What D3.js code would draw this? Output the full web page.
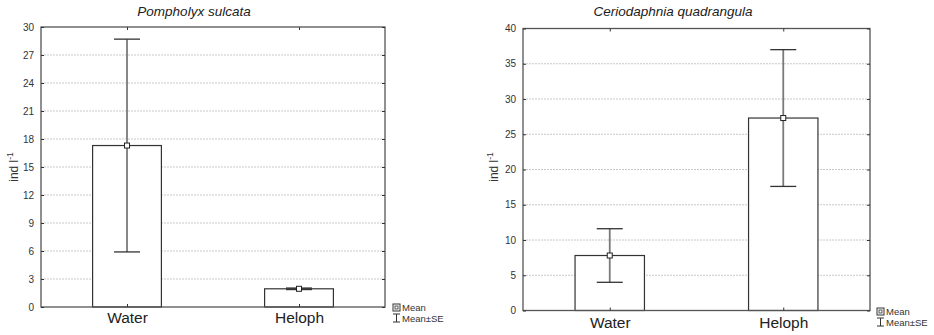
<!DOCTYPE html>
<html><head><meta charset="utf-8">
<script src="https://cdn.jsdelivr.net/npm/d3@7"></script>
<style>body{margin:0;background:#fff}svg{display:block}text{font-family:"Liberation Sans",Arial,sans-serif}</style>
</head><body><svg id="c" width="934" height="335"></svg>
<script>
const categories = ["Water", "Heloph"];
const titles = ["Pompholyx sulcata", "Ceriodaphnia quadrangula"];
const meansPomph = [17.3, 1.95];
const sePomph = [11.4, 0.08];
const meansCerio = [7.8, 27.3];
const seCerio = [3.8, 9.7];
const ticksPomph = [0, 3, 6, 9, 12, 15, 18, 21, 24, 27, 30];
const ticksCerio = [0, 5, 10, 15, 20, 25, 30, 35, 40];
const legendLabels = ["Mean", "Mean±SE"];

const svg = d3.select("#c");

function panel(o) {
  const g = svg.append("g");
  const x = d3.scalePoint().domain(categories).range([o.x0, o.x1]).padding(0.5);
  const y = d3.scaleLinear().domain([o.ticks[0], o.ticks[o.ticks.length - 1]]).range([o.y1, o.y0]);
  const bw = (o.x1 - o.x0) * 0.2;

  g.selectAll(".grid").data(o.ticks.slice(1, -1)).enter().append("line")
    .attr("x1", o.x0).attr("x2", o.x1).attr("y1", d => y(d)).attr("y2", d => y(d))
    .attr("stroke", "#c8c8c8").attr("stroke-width", 1).attr("stroke-dasharray", "2,1");

  g.selectAll(".bar").data(o.means).enter().append("rect")
    .attr("x", (d, i) => x(categories[i]) - bw / 2).attr("width", bw)
    .attr("y", d => y(d)).attr("height", d => y(0) - y(d))
    .attr("fill", "#fff").attr("stroke", "#333").attr("stroke-width", 1.2);

  const capW = 26;
  o.means.forEach((m, i) => {
    const cx = x(categories[i]);
    const hi = m + o.se[i], lo = m - o.se[i];
    g.append("line").attr("x1", cx).attr("x2", cx).attr("y1", y(hi)).attr("y2", y(lo))
      .attr("stroke", "#7a7a7a").attr("stroke-width", 1.8);
    [hi, lo].forEach(v => g.append("line").attr("x1", cx - capW / 2).attr("x2", cx + capW / 2)
      .attr("y1", y(v)).attr("y2", y(v)).attr("stroke", "#333").attr("stroke-width", 1.3));
    g.append("rect").attr("x", cx - 2.5).attr("y", y(m) - 2.5).attr("width", 5).attr("height", 5)
      .attr("fill", "#fff").attr("stroke", "#222").attr("stroke-width", 1);
  });

  g.append("rect").attr("x", o.x0).attr("y", o.y0).attr("width", o.x1 - o.x0).attr("height", o.y1 - o.y0)
    .attr("fill", "none").attr("stroke", "#555").attr("stroke-width", 1.3);

  const yl = g.append("g").attr("transform", `translate(${o.x0},0)`)
    .call(d3.axisLeft(y).tickValues(o.ticks).tickSize(-3).tickPadding(7));
  const yr = g.append("g").attr("transform", `translate(${o.x1},0)`)
    .call(d3.axisRight(y).tickValues(o.ticks).tickSize(-3).tickFormat(""));
  const xb = g.append("g").attr("transform", `translate(0,${o.y1})`)
    .call(d3.axisBottom(x).tickSize(-3).tickPadding(o.xPad));
  const xt = g.append("g").attr("transform", `translate(0,${o.y0})`)
    .call(d3.axisTop(x).tickSize(-3).tickFormat(""));
  [yl, yr, xb, xt].forEach(a => { a.select(".domain").remove(); a.selectAll(".tick line").attr("stroke", "#333"); });
  yl.selectAll("text").attr("font-size", 10).attr("fill", "#333");
  xb.selectAll("text").attr("font-size", 15.5).attr("fill", "#222");

  g.append("text").attr("x", o.tx).attr("y", 16).attr("text-anchor", "middle")
    .attr("font-style", "italic").attr("font-size", 13.5).attr("fill", "#222").text(o.title);

  const yt = g.append("text").attr("transform", `translate(${o.lx},${o.ly}) rotate(-90)`)
    .attr("text-anchor", "middle").attr("font-size", 12).attr("fill", "#333");
  yt.append("tspan").text("ind l");
  yt.append("tspan").attr("dy", -5).attr("font-size", 8.5).text("-1");

  const lg = g.append("g").attr("transform", `translate(${o.legX},${o.legY})`);
  lg.append("rect").attr("x", 0).attr("y", -7).attr("width", 7).attr("height", 7).attr("fill", "#fff").attr("stroke", "#333");
  lg.append("rect").attr("x", 2).attr("y", -5).attr("width", 3).attr("height", 3).attr("fill", "#fff").attr("stroke", "#333").attr("stroke-width", 0.8);
  lg.append("line").attr("x1", 3.5).attr("x2", 3.5).attr("y1", 3).attr("y2", 11).attr("stroke", "#333");
  lg.append("line").attr("x1", 0).attr("x2", 7).attr("y1", 3).attr("y2", 3).attr("stroke", "#333");
  lg.append("line").attr("x1", 0).attr("x2", 7).attr("y1", 11).attr("y2", 11).attr("stroke", "#333");
  lg.selectAll(".lt").data(legendLabels).enter().append("text")
    .attr("x", 9).attr("y", (d, i) => i * 10.5).attr("font-size", 9.5).attr("fill", "#333").text(d => d);
}

panel({x0: 41, x1: 385, y0: 27, y1: 307, ticks: ticksPomph, means: meansPomph, se: sePomph,
  title: titles[0], tx: 194, lx: 18, ly: 167, legX: 393, legY: 311, xPad: 5});
panel({x0: 523, x1: 870, y0: 28.5, y1: 310.5, ticks: ticksCerio, means: meansCerio, se: seCerio,
  title: titles[1], tx: 673, lx: 498, ly: 167, legX: 877, legY: 315, xPad: 6});
</script></body></html>
